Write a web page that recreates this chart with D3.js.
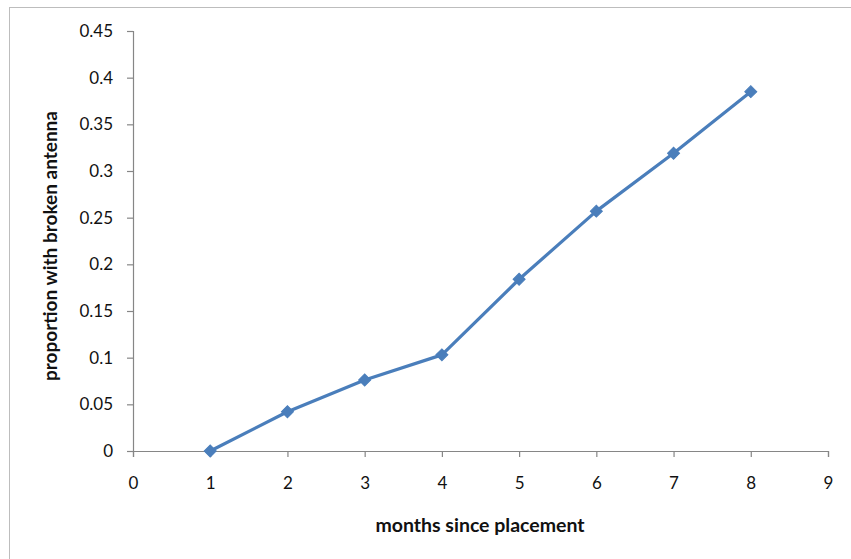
<!DOCTYPE html>
<html><head><meta charset="utf-8">
<script src="https://cdn.jsdelivr.net/npm/d3@7"></script>
<style>body{margin:0;background:#fff}svg{display:block}</style>
</head><body><svg id="c" width="851" height="559"></svg>
<script>
const months = [1, 2, 3, 4, 5, 6, 7, 8];
const proportion = [0, 0.042, 0.076, 0.103, 0.184, 0.257, 0.319, 0.385];
const xTicks = [0, 1, 2, 3, 4, 5, 6, 7, 8, 9];
const yTicks = [0, 0.05, 0.1, 0.15, 0.2, 0.25, 0.3, 0.35, 0.4, 0.45];
const xTitle = "months since placement";
const yTitle = "proportion with broken antenna";

const svg = d3.select("#c");
const font = "Lato, 'Open Sans', sans-serif";
svg.append("rect").attr("x", 9.5).attr("y", 7.5).attr("width", 900).attr("height", 600)
  .attr("fill", "#fff").attr("stroke", "#bdbdbd").attr("stroke-width", 1);

const x = d3.scaleLinear().domain([0, 9]).range([133, 828]);
const y = d3.scaleLinear().domain([0, 0.45]).range([451, 31]);

const xAxis = svg.append("g").attr("transform", "translate(0,451)")
  .call(d3.axisBottom(x).tickValues(xTicks).tickSize(6).tickPadding(20).tickFormat(d3.format("d")));
const yAxis = svg.append("g").attr("transform", "translate(133,0)")
  .call(d3.axisLeft(y).tickValues(yTicks).tickSize(6).tickPadding(14).tickFormat(d => d === 0 ? "0" : String(+d.toFixed(2))));
[xAxis, yAxis].forEach(g => {
  g.select(".domain").attr("stroke", "#868686").attr("stroke-width", 1.2);
  g.selectAll(".tick line").attr("stroke", "#868686").attr("stroke-width", 1.2);
  g.selectAll("text").attr("font-family", font).attr("font-size", 17).attr("fill", "#111");
});

const line = d3.line().x((d, i) => x(months[i])).y(d => y(d));
svg.append("path").datum(proportion).attr("d", line)
  .attr("fill", "none").attr("stroke", "#4A7EBB").attr("stroke-width", 3.2).attr("stroke-linejoin", "round");

const sym = d3.symbol().type(d3.symbolSquare).size(72);
svg.selectAll(".m").data(proportion).enter().append("path")
  .attr("d", sym)
  .attr("transform", (d, i) => `translate(${x(months[i])},${y(d)}) rotate(45)`)
  .attr("fill", "#4A7EBB").attr("stroke", "#4A7EBB").attr("stroke-width", 1);

svg.append("text").attr("x", 480).attr("y", 532).attr("text-anchor", "middle")
  .attr("font-family", font).attr("font-weight", "bold").attr("font-size", 19.5).attr("fill", "#111").text(xTitle);
svg.append("text").attr("transform", "translate(57,246) rotate(-90)").attr("text-anchor", "middle")
  .attr("font-family", font).attr("font-weight", "bold").attr("font-size", 19).attr("fill", "#111").text(yTitle);
</script></body></html>
